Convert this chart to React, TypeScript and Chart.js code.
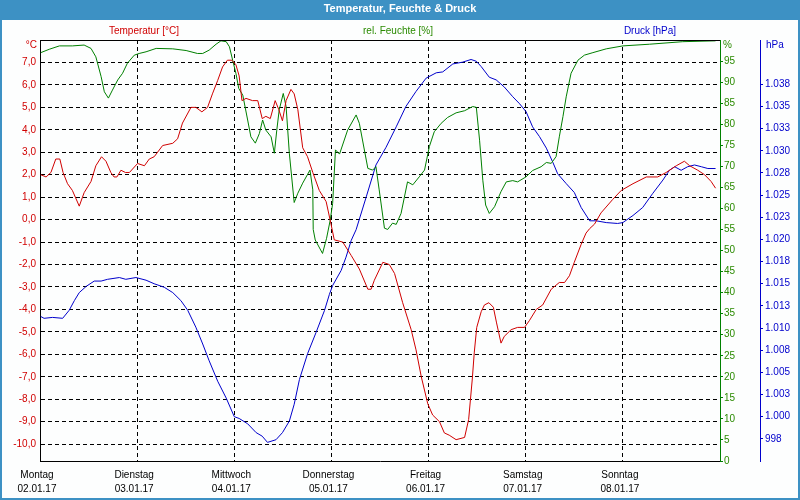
import React, { useEffect, useRef } from 'react';
import { Chart, registerables } from 'chart.js';

Chart.register(...registerables);

const chartTitle = 'Temperatur, Feuchte & Druck';
const seriesNames = ['Temperatur [°C]', 'rel. Feuchte [%]', 'Druck [hPa]'];
const dayNames = ['Montag', 'Dienstag', 'Mittwoch', 'Donnerstag', 'Freitag', 'Samstag', 'Sonntag'];
const dayDates = ['02.01.17', '03.01.17', '04.01.17', '05.01.17', '06.01.17', '07.01.17', '08.01.17'];

const tempTicks = [-10, -9, -8, -7, -6, -5, -4, -3, -2, -1, 0, 1, 2, 3, 4, 5, 6, 7];
const humTicks = [0, 5, 10, 15, 20, 25, 30, 35, 40, 45, 50, 55, 60, 65, 70, 75, 80, 85, 90, 95];
const presTicks = [997.5, 1000, 1002.5, 1005, 1007.5, 1010, 1012.5, 1015, 1017.5, 1020, 1022.5, 1025, 1027.5, 1030, 1032.5, 1035, 1037.5];

// hours since Monday 00:00
const tempHours = [
  0.2, 1.5, 2.7, 3.9, 4.9, 5.7, 6.8, 8.0, 9.7, 10.9,
  12.6, 13.8, 15.2, 16.3, 17.5, 18.3, 19.0, 20.0, 21.1, 22.1,
  24.1, 25.8, 27.0, 28.2, 30.3, 32.8, 34.0, 35.2, 37.3, 38.5,
  40.0, 41.4, 42.6, 43.9, 45.1, 46.3, 47.4, 48.4, 49.2, 49.9,
  50.9, 52.5, 53.8, 54.9, 55.8, 56.9, 58.1, 59.0, 59.9, 60.8,
  62.0, 62.8, 63.7, 64.9, 66.1, 67.4, 69.0, 70.7, 71.9, 72.7,
  74.8, 76.9, 78.9, 81.0, 81.8, 82.6, 84.7, 86.3, 87.6, 89.6,
  91.7, 92.9, 94.2, 95.8, 97.0, 98.7, 99.9, 101.1, 102.8, 104.9,
  105.9, 106.8, 107.3, 107.9, 109.0, 109.8, 110.9, 112.0, 112.8, 113.9,
  114.7, 116.4, 118.0, 119.7, 120.9, 122.6, 124.2, 126.3, 128.3, 129.6,
  130.8, 132.0, 133.7, 134.9, 135.8, 137.0, 138.6, 141.5, 143.6, 146.5,
  149.8, 152.6, 154.7, 157.2, 159.2, 160.5, 162.5, 164.2, 165.8, 166.9,
];
const tempValues = [
  2.0, 1.9, 2.1, 2.7, 2.7, 2.1, 1.6, 1.3, 0.6, 1.2,
  1.7, 2.4, 2.8, 2.6, 2.1, 1.9, 1.9, 2.2, 2.1, 2.1,
  2.5, 2.4, 2.7, 2.8, 3.3, 3.4, 3.6, 4.3, 5.0, 5.0,
  4.8, 5.0, 5.6, 6.2, 6.8, 7.1, 7.1, 6.9, 6.4, 5.3,
  5.4, 5.3, 5.3, 4.5, 4.6, 4.5, 5.3, 4.9, 4.4, 5.3,
  5.8, 5.6, 4.9, 3.2, 2.8, 2.1, 1.3, 0.8, -0.2, -0.9,
  -1.0, -1.6, -2.2, -3.1, -3.1, -2.7, -1.9, -2.0, -2.4, -3.7,
  -4.9, -5.8, -7.0, -8.2, -8.7, -9.0, -9.5, -9.6, -9.8, -9.7,
  -8.9, -7.1, -5.9, -4.8, -4.1, -3.8, -3.7, -3.9, -4.6, -5.5,
  -5.2, -4.9, -4.8, -4.8, -4.5, -4.0, -3.8, -3.1, -2.8, -2.8,
  -2.5, -1.9, -1.1, -0.6, -0.4, -0.2, 0.3, 0.9, 1.3, 1.6,
  1.9, 1.9, 2.1, 2.4, 2.6, 2.4, 2.2, 2.0, 1.7, 1.4,
];

const humHours = [
  0.2, 2.3, 4.8, 8.0, 10.9, 12.6, 13.8, 15.1, 15.9, 16.9,
  17.9, 19.2, 20.4, 21.6, 23.3, 24.5, 26.2, 28.7, 32.8, 36.1,
  38.9, 40.2, 41.8, 43.5, 44.7, 46.0, 46.8, 47.6, 48.4, 49.1,
  50.1, 51.3, 52.1, 53.2, 54.2, 55.0, 55.8, 57.1, 57.9, 58.5,
  59.1, 60.1, 60.8, 61.6, 62.8, 63.7, 64.9, 66.7, 67.4, 67.5,
  68.0, 69.8, 70.8, 71.7, 72.3, 73.0, 74.0, 76.0, 78.1, 78.9,
  81.0, 82.2, 83.0, 83.8, 85.1, 85.9, 87.1, 88.0, 89.2, 90.8,
  92.1, 93.7, 95.0, 96.2, 97.4, 99.1, 100.7, 102.8, 104.9, 106.9,
  107.8, 108.6, 109.4, 110.1, 111.0, 112.3, 113.9, 115.2, 116.8, 118.0,
  120.1, 121.7, 123.8, 125.1, 126.3, 127.5, 128.3, 129.2, 130.0, 131.2,
  132.9, 134.5, 136.6, 139.9, 144.0, 150.6, 158.8, 166.9,
];
const humValues = [
  97.0, 97.8, 98.6, 98.6, 98.8, 98.0, 96.0, 91.3, 87.7, 86.2,
  88.1, 90.5, 92.1, 94.5, 96.4, 96.8, 97.2, 98.0, 97.9, 97.5,
  96.8, 96.8, 97.6, 99.0, 99.8, 99.6, 98.4, 95.2, 92.1, 88.5,
  86.9, 81.0, 77.0, 75.5, 77.8, 81.0, 78.6, 77.0, 73.1, 78.6,
  83.4, 87.3, 84.2, 73.1, 61.4, 63.6, 66.0, 69.1, 64.4, 55.0,
  52.5, 49.3, 52.9, 57.2, 61.2, 73.9, 72.9, 78.6, 82.2, 80.2,
  69.5, 69.1, 69.9, 64.4, 55.3, 55.0, 56.5, 56.2, 58.8, 66.3,
  65.6, 67.5, 69.1, 74.7, 78.2, 80.2, 81.6, 82.7, 83.2, 84.2,
  84.0, 76.2, 66.7, 60.8, 58.8, 60.4, 64.0, 66.3, 66.6, 66.3,
  67.5, 69.0, 69.9, 70.9, 70.7, 72.3, 77.0, 81.8, 86.5, 92.1,
  95.2, 96.4, 97.0, 97.9, 98.6, 99.0, 99.6, 99.8,
];

const presHours = [
  0.2, 1.0, 3.1, 5.6, 7.2, 8.5, 9.7, 11.4, 13.4, 15.1,
  16.7, 19.6, 21.2, 23.7, 26.2, 28.2, 30.7, 32.8, 34.8, 36.5,
  38.5, 40.2, 41.8, 43.9, 46.0, 48.0, 49.2, 51.3, 53.4, 54.9,
  56.2, 58.3, 59.9, 61.6, 62.8, 64.1, 66.1, 68.2, 70.3, 71.5,
  72.3, 74.4, 75.6, 76.9, 78.1, 80.6, 83.0, 85.5, 88.0, 90.4,
  92.9, 95.4, 97.9, 99.5, 102.0, 104.4, 106.5, 107.8, 109.0, 111.0,
  112.7, 114.7, 116.8, 118.5, 120.1, 121.7, 123.4, 125.1, 126.7, 127.9,
  130.0, 132.0, 133.7, 135.8, 137.4, 139.9, 142.7, 144.0, 146.5, 148.9,
  151.4, 153.9, 155.5, 156.8, 158.4, 160.0, 161.7, 163.4, 165.0, 166.9,
];
const presValues = [
  1011.3, 1011.1, 1011.2, 1011.1, 1012.0, 1013.1, 1014.0, 1014.7, 1015.3, 1015.3,
  1015.5, 1015.7, 1015.5, 1015.7, 1015.4, 1015.0, 1014.6, 1014.0, 1013.1, 1012.0,
  1010.1, 1008.2, 1006.3, 1004.0, 1002.1, 1000.0, 999.8, 999.2, 998.2, 997.8,
  997.1, 997.4, 998.2, 999.5, 1001.4, 1004.2, 1007.1, 1009.5, 1012.0, 1013.8,
  1014.8, 1016.5, 1018.0, 1019.9, 1021.1, 1024.8, 1028.4, 1030.4, 1032.7, 1035.0,
  1036.7, 1038.2, 1038.8, 1038.9, 1039.8, 1040.0, 1040.3, 1040.1, 1039.5, 1038.3,
  1038.0, 1037.2, 1036.1, 1035.3, 1034.4, 1032.7, 1031.6, 1030.3, 1028.7, 1027.4,
  1026.3, 1025.3, 1023.6, 1022.1, 1022.1, 1021.9, 1021.8, 1021.9, 1022.7, 1023.6,
  1025.2, 1026.7, 1027.8, 1028.2, 1027.8, 1028.2, 1028.4, 1028.2, 1028.0, 1028.0,
];

const RED = '#d00000';
const GREEN = '#008000';
const GREEN_TXT = '#2a8a00';
const BLUE = '#0000cc';
const FRAME = '#3d91c4';
const FONT = '"Liberation Sans", Arial, sans-serif';

const toPoints = (xs: number[], ys: number[]) => xs.map((x, i) => ({ x, y: ys[i] }));

const fmtTemp = (v: number) => v.toFixed(1).replace('.', ',');
const fmtPres = (v: number) => {
  const n = Math.round(v);
  return n >= 1000 ? '1.' + String(n - 1000).padStart(3, '0') : String(n);
};

const zeroPad = (s: any) => {
  s.paddingTop = 0;
  s.paddingBottom = 0;
  s.paddingLeft = 0;
  s.paddingRight = 0;
};

const framePlugin = {
  id: 'framePlugin',
  beforeDraw(chart: any) {
    const { ctx, width, height } = chart;
    ctx.save();
    ctx.fillStyle = FRAME;
    ctx.fillRect(0, 0, width, height);
    ctx.fillStyle = '#fdfefe';
    ctx.fillRect(2, 20, width - 4, height - 22);
    ctx.fillStyle = '#ffffff';
    ctx.font = 'bold 11px ' + FONT;
    ctx.textAlign = 'center';
    ctx.textBaseline = 'middle';
    ctx.fillText(chartTitle, 400, 9);
    ctx.font = '10px ' + FONT;
    ctx.fillStyle = RED;
    ctx.fillText(seriesNames[0], 144, 31);
    ctx.fillStyle = GREEN_TXT;
    ctx.fillText(seriesNames[1], 398, 31);
    ctx.fillStyle = BLUE;
    ctx.fillText(seriesNames[2], 650, 31);
    ctx.restore();
  },
  afterDraw(chart: any) {
    const { ctx, chartArea } = chart;
    ctx.save();
    ctx.strokeStyle = '#000';
    ctx.lineWidth = 1;
    ctx.beginPath();
    ctx.moveTo(chartArea.left, chartArea.top + 0.5);
    ctx.lineTo(chartArea.right, chartArea.top + 0.5);
    ctx.stroke();
    ctx.font = '10px ' + FONT;
    ctx.textBaseline = 'middle';
    ctx.textAlign = 'right';
    ctx.fillStyle = RED;
    ctx.fillText('°C', chartArea.left - 3, 45);
    ctx.textAlign = 'left';
    ctx.fillStyle = GREEN_TXT;
    ctx.fillText('%', chartArea.right + 3, 45);
    ctx.fillStyle = BLUE;
    ctx.fillText('hPa', chartArea.right + 46, 45);
    ctx.restore();
  },
};

export default function App() {
  const ref = useRef<HTMLCanvasElement | null>(null);

  useEffect(() => {
    document.body.style.margin = '0';
    const canvas = ref.current;
    if (!canvas) return;
    const chart = new Chart(canvas, {
      type: 'line',
      data: {
        datasets: [
          {
            label: seriesNames[0],
            data: toPoints(tempHours, tempValues),
            borderColor: RED,
            borderWidth: 1,
            pointRadius: 0,
            tension: 0,
            yAxisID: 'yT',
          },
          {
            label: seriesNames[1],
            data: toPoints(humHours, humValues),
            borderColor: GREEN,
            borderWidth: 1,
            pointRadius: 0,
            tension: 0,
            yAxisID: 'yH',
          },
          {
            label: seriesNames[2],
            data: toPoints(presHours, presValues),
            borderColor: BLUE,
            borderWidth: 1,
            pointRadius: 0,
            tension: 0,
            yAxisID: 'yP',
          },
        ],
      },
      options: {
        responsive: false,
        devicePixelRatio: 1,
        animation: false,
        events: [],
        layout: { padding: { top: 40, left: 0, right: 0, bottom: 0 } },
        plugins: { legend: { display: false }, tooltip: { enabled: false }, title: { display: false } },
        scales: {
          x: {
            type: 'linear',
            min: 0,
            max: 168,
            afterBuildTicks: (s: any) => {
              s.ticks = [0, 24, 48, 72, 96, 120, 144, 168].map((v) => ({ value: v }));
            },
            afterFit: (s: any) => {
              s.height = 39;
              zeroPad(s);
            },
            grid: {
              color: (c: any) => (c.tick && (c.tick.value === 0 || c.tick.value === 168) ? 'rgba(0,0,0,0)' : '#000'),
              drawTicks: false,
              lineWidth: 1,
            },
            border: { display: true, color: '#000', width: 1, dash: [4, 3] },
            ticks: {
              padding: 7,
              labelOffset: -3,
              maxRotation: 0,
              autoSkip: false,
              color: '#000',
              font: { family: FONT, size: 10, lineHeight: 1.4 },
              callback: (v: any) => {
                const i = Math.round(Number(v) / 24);
                return i < 7 ? [dayNames[i], dayDates[i]] : '';
              },
            },
          },
          yT: {
            type: 'linear',
            position: 'left',
            min: -10.75,
            max: 8,
            afterBuildTicks: (s: any) => {
              s.ticks = tempTicks.map((v) => ({ value: v }));
            },
            afterFit: (s: any) => {
              s.width = 40;
              zeroPad(s);
            },
            grid: { color: '#000', drawTicks: false, lineWidth: 1 },
            border: { display: true, color: '#000', width: 1, dash: [4, 3] },
            ticks: {
              padding: 4,
              color: RED,
              font: { family: FONT, size: 10 },
              callback: (v: any) => fmtTemp(Number(v)),
            },
          },
          yH: {
            type: 'linear',
            position: 'right',
            weight: 0,
            min: 0,
            max: 100,
            afterBuildTicks: (s: any) => {
              s.ticks = humTicks.map((v) => ({ value: v }));
            },
            afterFit: (s: any) => {
              s.width = 40;
              zeroPad(s);
            },
            grid: { drawOnChartArea: false, drawTicks: true, tickLength: 3, color: GREEN, tickColor: GREEN },
            border: { display: true, color: GREEN, width: 1 },
            ticks: {
              padding: 1,
              color: GREEN_TXT,
              font: { family: FONT, size: 10 },
              callback: (v: any) => String(v),
            },
          },
          yP: {
            type: 'linear',
            position: 'right',
            weight: 1,
            min: 995,
            max: 1042.5,
            afterBuildTicks: (s: any) => {
              s.ticks = presTicks.map((v) => ({ value: v }));
            },
            afterFit: (s: any) => {
              s.width = 40;
              zeroPad(s);
            },
            grid: { drawOnChartArea: false, drawTicks: true, tickLength: 3, color: BLUE, tickColor: BLUE },
            border: { display: true, color: BLUE, width: 1 },
            ticks: {
              padding: 2,
              color: BLUE,
              font: { family: FONT, size: 10 },
              callback: (v: any) => fmtPres(Number(v)),
            },
          },
        },
      } as any,
      plugins: [framePlugin],
    });
    return () => chart.destroy();
  }, []);

  return (
    <div style={{ position: 'absolute', left: 0, top: 0, width: 800, height: 500 }}>
      <canvas ref={ref} width={800} height={500} style={{ display: 'block' }} />
    </div>
  );
}
